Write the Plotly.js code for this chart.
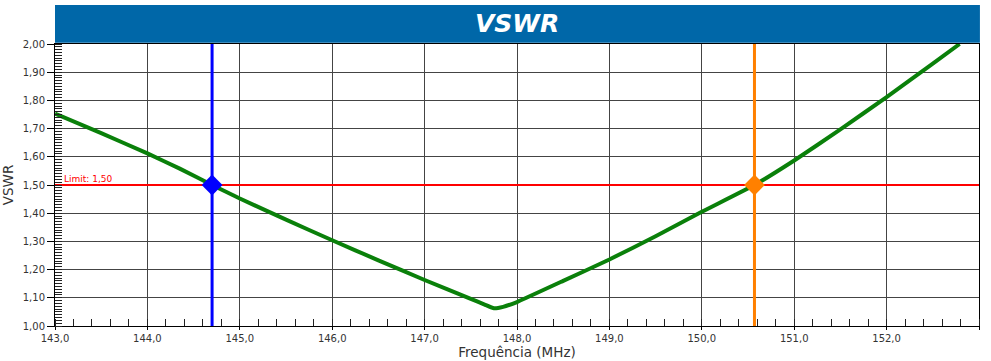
<!DOCTYPE html>
<html><head><meta charset="utf-8">
<script src="https://cdn.plot.ly/plotly-3.0.1.min.js"></script>
<style>html,body{margin:0;padding:0;background:#fff}#chart{width:991px;height:361px}</style>
</head><body><div id="chart"></div>
<script>
const freq = [143.0,143.5,144.0,144.35,144.7,145.0,145.5,146.0,146.5,147.0,147.5,147.65,147.75,147.85,148.0,148.5,149.0,149.5,150.0,150.57,151.0,151.5,152.0,152.5,152.79];
const vswr = [1.753,1.684,1.612,1.558,1.500,1.452,1.377,1.304,1.233,1.163,1.096,1.076,1.063,1.068,1.085,1.160,1.236,1.318,1.405,1.500,1.587,1.697,1.812,1.930,2.000];
const markerFreq = [144.70, 150.57];
const markerVswr = [1.50, 1.50];
const markerColors = ['#0000FF', '#FF8000'];
const limitValue = 1.50;
const limitLabel = 'Limit: 1,50';

const traces = [];
markerFreq.forEach((f,i)=>{
  traces.push({x:[f,f], y:[1,2], mode:'lines', line:{color:markerColors[i], width:3}, hoverinfo:'skip', showlegend:false});
});
traces.push({x:[143,153], y:[limitValue,limitValue], mode:'lines', line:{color:'#FF0000', width:2}, showlegend:false});
traces.push({x:freq, y:vswr, mode:'lines', line:{color:'#0A800A', width:4, shape:'spline', smoothing:0.3}, showlegend:false});
traces.push({x:markerFreq, y:markerVswr, mode:'markers', marker:{symbol:'diamond', size:16, color:markerColors}, showlegend:false});

const layout = {
  width:991, height:361,
  margin:{l:55, r:12, t:44, b:35},
  paper_bgcolor:'#fff', plot_bgcolor:'#fff',
  separators:',.',
  font:{family:'DejaVu Sans, Verdana, sans-serif', color:'#333'},
  xaxis:{range:[143,153], dtick:1, tick0:143, tickformat:'.1f',
    ticks:'outside', ticklen:3, tickcolor:'#000',
    showgrid:true, gridcolor:'#444', gridwidth:1,
    showline:true, linecolor:'#000', linewidth:1, mirror:true,
    zeroline:false, tickfont:{size:10, color:'#333'},
    minor:{dtick:0.2, ticks:'inside', ticklen:7, tickcolor:'#222', showgrid:false},
    title:{text:'Frequência (MHz)', font:{size:13.5, color:'#333'}, standoff:2}},
  yaxis:{range:[1,2], dtick:0.1, tick0:1, tickformat:'.2f',
    ticks:'outside', ticklen:7, tickcolor:'#000',
    showgrid:true, gridcolor:'#444', gridwidth:1,
    showline:true, linecolor:'#000', linewidth:1, mirror:true,
    zeroline:false, tickfont:{size:10, color:'#333'},
    minor:{dtick:0.01, ticks:'inside', ticklen:7, tickcolor:'#222', showgrid:false},
    title:{text:'VSWR', font:{size:13.5, color:'#333'}, standoff:6}},
  shapes:[{type:'rect', xref:'paper', yref:'paper', x0:0, x1:1.001, y0:1.004, y1:1.138, fillcolor:'#0067A8', line:{width:0}, layer:'above'}],
  annotations:[
    {xref:'paper', yref:'paper', x:0.5, y:1.071, text:'<b><i>VSWR</i></b>', showarrow:false, font:{size:25, color:'#fff', family:'DejaVu Sans, Verdana, sans-serif'}, xanchor:'center', yanchor:'middle'},
    {xref:'x', yref:'y', x:143.08, y:limitValue, text:limitLabel, showarrow:false, xanchor:'left', yanchor:'bottom', font:{size:9, color:'#FF0000'}, yshift:-1}
  ]
};
Plotly.newPlot('chart', traces, layout, {displayModeBar:false, staticPlot:true});
</script></body></html>
